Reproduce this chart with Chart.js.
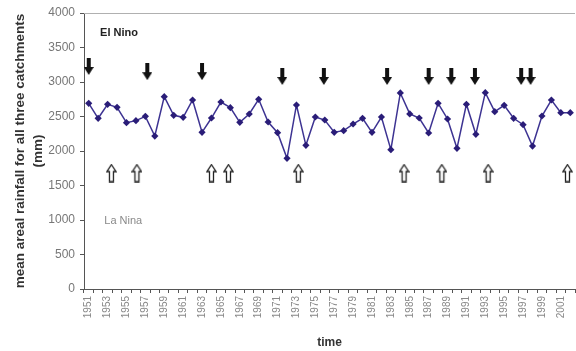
<!DOCTYPE html>
<html>
<head>
<meta charset="utf-8">
<script src="https://cdn.jsdelivr.net/npm/chart.js@4/dist/chart.umd.min.js"></script>
<style>
  body { margin: 0; overflow: hidden; background: #fff; }
  canvas { display: block; }
</style>
</head>
<body>
<canvas id="rainChart" width="580" height="351"></canvas>
<script>
// years on the category axis
var years = ["1951", "1952", "1953", "1954", "1955", "1956", "1957", "1958", "1959", "1960",
    "1961", "1962", "1963", "1964", "1965", "1966", "1967", "1968", "1969", "1970",
    "1971", "1972", "1973", "1974", "1975", "1976", "1977", "1978", "1979", "1980",
    "1981", "1982", "1983", "1984", "1985", "1986", "1987", "1988", "1989", "1990",
    "1991", "1992", "1993", "1994", "1995", "1996", "1997", "1998", "1999", "2000",
    "2001", "2002"];

// mean areal rainfall (mm)
var rainfall = [2691, 2474, 2677, 2633, 2410, 2440, 2502, 2217, 2787, 2517,
    2488, 2739, 2271, 2478, 2710, 2628, 2415, 2536, 2749, 2420,
    2266, 1894, 2667, 2082, 2493, 2449, 2271, 2295, 2391, 2474,
    2271, 2493, 2019, 2841, 2538, 2478, 2261, 2691, 2464, 2039,
    2677, 2242, 2845, 2570, 2662, 2474, 2382, 2072, 2507, 2739,
    2556, 2556];

// El Nino markers (year position, height)
var elNinoYears = [1951, 1957.2, 1963, 1971.5, 1975.9, 1982.6, 1987, 1989.4, 1991.9, 1996.8, 1997.8];
var elNinoLevel = [3225, 3150, 3150, 3080, 3080, 3080, 3080, 3080, 3080, 3080, 3080];

// La Nina markers
var laNinaYears = [1953.4, 1956.1, 1964.0, 1965.8, 1973.2, 1984.4, 1988.4, 1993.3, 2001.7];
var laNinaLevel = [1680, 1680, 1680, 1680, 1680, 1680, 1680, 1680, 1680];

// text notes in the plot
var noteText = ["El Nino", "La Nina"];
var noteX = [1952.2, 1952.65];
var noteY = [3710, 990];

var yTicks = [0, 500, 1000, 1500, 2000, 2500, 3000, 3500, 4000];

var firstYear = Number(years[0]);

function downArrow() {
    var c = document.createElement('canvas');
    c.width = 10;
    c.height = 17;
    var g = c.getContext('2d');
    g.fillStyle = '#111';
    g.beginPath();
    g.moveTo(3, 0);
    g.lineTo(7, 0);
    g.lineTo(7, 9);
    g.lineTo(10, 9);
    g.lineTo(5, 17);
    g.lineTo(0, 9);
    g.lineTo(3, 9);
    g.closePath();
    g.fill();
    return c;
}

function upArrow() {
    var c = document.createElement('canvas');
    c.width = 11;
    c.height = 19;
    var g = c.getContext('2d');
    g.fillStyle = '#fff';
    g.strokeStyle = '#222';
    g.lineWidth = 1.3;
    g.beginPath();
    g.moveTo(5.5, 1);
    g.lineTo(10, 8);
    g.lineTo(7.5, 8);
    g.lineTo(7.5, 18);
    g.lineTo(3.5, 18);
    g.lineTo(3.5, 8);
    g.lineTo(1, 8);
    g.closePath();
    g.fill();
    g.stroke();
    return c;
}

function toPoints(xs, ys) {
    return xs.map(function(x, i) {
        return { x: x - firstYear, y: ys[i] };
    });
}

// top frame line + text notes
var extrasPlugin = {
    id: 'extras',
    afterDatasetsDraw: function(chart) {
        var ctx = chart.ctx;
        var area = chart.chartArea;
        var xa = chart.scales.xa;
        var y = chart.scales.y;
        ctx.save();
        ctx.strokeStyle = '#b0b0b0';
        ctx.lineWidth = 1;
        ctx.beginPath();
        ctx.moveTo(area.left, area.top + 0.5);
        ctx.lineTo(area.right, area.top + 0.5);
        ctx.stroke();

        ctx.textBaseline = 'middle';
        ctx.textAlign = 'left';
        ctx.font = 'bold 11px "Liberation Sans", Arial, sans-serif';
        ctx.fillStyle = '#222';
        ctx.fillText(noteText[0], xa.getPixelForValue(noteX[0] - firstYear), y.getPixelForValue(noteY[0]));
        ctx.font = '11px "Liberation Sans", Arial, sans-serif';
        ctx.fillStyle = '#8a8a8a';
        ctx.fillText(noteText[1], xa.getPixelForValue(noteX[1] - firstYear), y.getPixelForValue(noteY[1]));
        ctx.restore();
    }
};

var ctx = document.getElementById('rainChart');

var data = {
    labels: years,
    datasets: [{
        label: 'rainfall',
        data: rainfall,
        borderColor: '#3d3392',
        backgroundColor: '#2a1d78',
        borderWidth: 1.5,
        pointStyle: 'rectRot',
        pointRadius: 3.6,
        pointBorderWidth: 0,
        lineTension: 0,
        fill: false,
        xAxisID: 'x',
        yAxisID: 'y'
    }, {
        type: 'scatter',
        label: 'El Nino',
        data: toPoints(elNinoYears, elNinoLevel),
        pointStyle: downArrow(),
        xAxisID: 'xa',
        yAxisID: 'y'
    }, {
        type: 'scatter',
        label: 'La Nina',
        data: toPoints(laNinaYears, laNinaLevel),
        pointStyle: upArrow(),
        xAxisID: 'xa',
        yAxisID: 'y'
    }]
};

//options
var options = {
    responsive: false,
    animation: false,
    layout: { padding: { top: 13, right: 0, left: 0, bottom: 0 } },
    plugins: {
        legend: { display: false },
        tooltip: { enabled: false }
    },
    scales: {
        x: {
            type: 'category',
            offset: true,
            grid: { offset: true, drawOnChartArea: false, tickLength: 4, color: '#555' },
            border: { color: '#555', width: 1 },
            ticks: {
                autoSkip: false,
                minRotation: 90,
                maxRotation: 90,
                padding: 3,
                color: '#888',
                font: { family: '"Liberation Sans", Arial, sans-serif', size: 10 },
                callback: function(val, i) {
                    return i % 2 === 0 ? this.getLabelForValue(val) : '';
                }
            },
            title: {
                display: true,
                text: 'time',
                color: '#333',
                font: { family: '"Liberation Sans", Arial, sans-serif', size: 12, weight: 'bold' },
                padding: { top: 0, bottom: 1 }
            },
            afterFit: function(s) {
                s.height = 62;
                s.paddingLeft = 0;
                s.paddingRight = 0;
            }
        },
        xa: {
            type: 'linear',
            display: false,
            min: -0.5,
            max: years.length - 0.5
        },
        y: {
            min: 0,
            max: 4000,
            afterBuildTicks: function(s) {
                s.ticks = yTicks.map(function(v) { return { value: v }; });
            },
            grid: { drawOnChartArea: false, tickLength: 4, color: '#555' },
            border: { color: '#555', width: 1 },
            ticks: {
                padding: 5,
                color: '#777',
                font: { family: '"Liberation Sans", Arial, sans-serif', size: 12 },
                callback: function(v) {
                    return String(v);
                }
            },
            title: {
                display: true,
                text: ['mean areal rainfall for all three catchments', '(mm)'],
                color: '#333',
                font: { family: '"Liberation Sans", Arial, sans-serif', size: 13.5, weight: 'bold', lineHeight: 1.33 },
                padding: { top: 11, bottom: 0 }
            },
            afterFit: function(s) {
                s.width = 84;
            }
        }
    }
};

//create Chart class object
var chart = new Chart(ctx, {
    type: 'line',
    data: data,
    options: options,
    plugins: [extrasPlugin]
});
</script>
</body>
</html>
